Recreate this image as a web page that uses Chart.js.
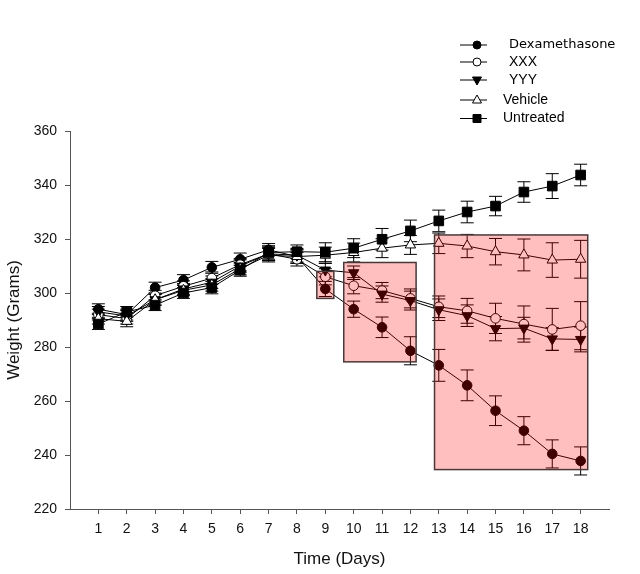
<!DOCTYPE html>
<html lang="en">
<head>
<meta charset="UTF-8">
<title>Weight over time</title>
<script src="https://cdn.jsdelivr.net/npm/chart.js"></script>
<style>
  html, body { margin: 0; padding: 0; background: #fff; }
  #wrap { position: relative; width: 640px; height: 574px; }
</style>
</head>
<body>
<div id="wrap"><canvas id="chart"></canvas></div>
<script>
// --- data ---
const days = [1, 2, 3, 4, 5, 6, 7, 8, 9, 10, 11, 12, 13, 14, 15, 16, 17, 18];
const xTicks = [1, 2, 3, 4, 5, 6, 7, 8, 9, 10, 11, 12, 13, 14, 15, 16, 17, 18];
const yTicks = [220, 240, 260, 280, 300, 320, 340, 360];
const seriesNames = ['Dexamethasone', 'XXX', 'YYY', 'Vehicle', 'Untreated'];

const dexamethasone    = [294, 292, 302, 304.8, 309.5, 312.5, 316, 313.5, 301.5, 294, 287.3, 278.6, 273.2, 265.8, 256.4, 249, 240.4, 237.8];
const dexamethasoneErr = [2, 2, 2, 2, 2.2, 2.3, 2.3, 2.5, 2.8, 3, 3.8, 5.2, 5.9, 5.7, 5.5, 5.2, 5.2, 5.2];
const xxx              = [292, 290.5, 299, 302.5, 305.5, 310.5, 314.5, 312.5, 306, 302.7, 300.9, 298, 294.9, 293.4, 290.6, 288.5, 286.5, 287.9];
const xxxErr           = [2, 2, 2, 2, 2.3, 2.3, 2.5, 2.5, 3, 3, 3, 3.5, 4, 4.6, 5.6, 6.7, 7.8, 8.9];
const yyy              = [293, 291.5, 297.5, 301.5, 304, 310, 314.5, 314, 308.5, 307.5, 299.6, 297.2, 293.8, 291.6, 286.8, 287, 283, 282.8];
const yyyErr           = [2, 2, 2, 2, 2.3, 2.3, 2.5, 2.5, 2.5, 2.5, 3, 3.5, 4, 4, 4.5, 4, 4.2, 4.6];
const vehicle          = [290.5, 289.5, 297.5, 301, 303, 309, 314, 313.5, 314, 315, 316.6, 317.8, 318.4, 317.4, 315.3, 314.1, 312.2, 312.5];
const vehicleErr       = [2, 2, 2, 2, 2.3, 2.3, 2.5, 2.5, 3, 3.5, 3.5, 3.5, 3.8, 4.3, 4.9, 5.9, 6.4, 7];
const untreated        = [288.5, 293, 295.5, 300, 302, 308.5, 315, 315.3, 315.1, 316.6, 319.9, 323, 326.7, 330, 332.2, 337.4, 339.6, 343.7];
const untreatedErr     = [2, 2, 2, 2, 2.3, 2.3, 2.5, 2.5, 3.5, 3.5, 4, 4, 4, 4, 3.6, 3.8, 4.6, 4];

// shaded regions, in data units: [dayFrom, dayTo], [weightFrom, weightTo]
const regionDays    = [[8.7, 9.3], [9.65, 12.2], [12.85, 18.25]];
const regionWeights = [[298, 308], [274.5, 311.3], [234.6, 321.5]];

const tickFont = { family: "'Liberation Sans', Arial, sans-serif", size: 14 };
const titleFont = { family: "'Liberation Sans', Arial, sans-serif", size: 17 };

// marker shapes for the legend
function drawMarker(ctx, style, x, y, r, fill) {
    ctx.beginPath();
    if (style === 'circle') {
        ctx.arc(x, y, r, 0, Math.PI * 2);
    } else if (style === 'rect') {
        ctx.rect(x - r, y - r, 2 * r, 2 * r);
    } else if (style === 'triUp') {
        ctx.moveTo(x, y - r);
        ctx.lineTo(x + r * 0.9, y + r * 0.6);
        ctx.lineTo(x - r * 0.9, y + r * 0.6);
        ctx.closePath();
    } else {
        ctx.moveTo(x, y + r);
        ctx.lineTo(x + r * 0.9, y - r * 0.6);
        ctx.lineTo(x - r * 0.9, y - r * 0.6);
        ctx.closePath();
    }
    ctx.fillStyle = fill;
    ctx.fill();
    ctx.lineWidth = 1;
    ctx.strokeStyle = '#000';
    ctx.stroke();
}

// error bars drawn under the markers
const errorBars = {
    id: 'errorBars',
    beforeDatasetsDraw(chart) {
        const ctx = chart.ctx;
        const xs = chart.scales.x, ys = chart.scales.y;
        ctx.save();
        ctx.strokeStyle = '#000';
        ctx.lineWidth = 1;
        chart.data.datasets.forEach(ds => {
            ds.data.forEach((pt, i) => {
                const e = ds.errors[i];
                const px = xs.getPixelForValue(pt.x);
                const top = ys.getPixelForValue(pt.y + e);
                const bot = ys.getPixelForValue(pt.y - e);
                ctx.beginPath();
                ctx.moveTo(px, top); ctx.lineTo(px, bot);
                ctx.moveTo(px - 6.5, top); ctx.lineTo(px + 6.5, top);
                ctx.moveTo(px - 6.5, bot); ctx.lineTo(px + 6.5, bot);
                ctx.stroke();
            });
        });
        ctx.restore();
    }
};

// translucent red boxes on top of the data
const shadedBoxes = {
    id: 'shadedBoxes',
    afterDatasetsDraw(chart) {
        const ctx = chart.ctx;
        const xs = chart.scales.x, ys = chart.scales.y;
        ctx.save();
        regionDays.forEach((d, i) => {
            const x0 = xs.getPixelForValue(d[0]);
            const x1 = xs.getPixelForValue(d[1]);
            const y0 = ys.getPixelForValue(regionWeights[i][1]);
            const y1 = ys.getPixelForValue(regionWeights[i][0]);
            ctx.fillStyle = 'rgba(255, 0, 0, 0.25)';
            ctx.fillRect(x0, y0, x1 - x0, y1 - y0);
            ctx.strokeStyle = '#4a3838';
            ctx.lineWidth = 1.5;
            ctx.strokeRect(x0, y0, x1 - x0, y1 - y0);
        });
        ctx.restore();
    }
};

// legend in the top right: line with marker, then name
const legendBox = {
    id: 'legendBox',
    afterDraw(chart) {
        const ctx = chart.ctx;
        const rows = [45, 62, 80, 100, 118.5];
        const textX = [509, 509, 509, 503, 503];
        const shapes = ['circle', 'circle', 'triDown', 'triUp', 'rect'];
        const fills = ['#000', '#fff', '#000', '#fff', '#000'];
        const sizes = [4, 4, 5, 5, 4];
        ctx.save();
        seriesNames.forEach((name, i) => {
            const y = rows[i];
            ctx.strokeStyle = '#000';
            ctx.lineWidth = 1;
            ctx.beginPath();
            ctx.moveTo(460, y); ctx.lineTo(487, y);
            ctx.stroke();
            drawMarker(ctx, shapes[i], 477, y, sizes[i], fills[i]);
            ctx.fillStyle = '#000';
            ctx.textBaseline = 'middle';
            ctx.font = i === 0 ? "13px 'DejaVu Sans', sans-serif" : "14px 'Liberation Sans', Arial, sans-serif";
            ctx.fillText(name, textX[i], y);
        });
        ctx.restore();
    }
};

function series(label, values, errs, style, fill, radius, rotation) {
    return {
        label: label,
        data: values.map((v, i) => ({ x: days[i], y: v })),
        errors: errs,
        borderColor: '#000',
        borderWidth: 1,
        pointStyle: style,
        pointRotation: rotation || 0,
        pointRadius: radius,
        pointBackgroundColor: fill,
        pointBorderColor: '#000',
        pointBorderWidth: 1,
        tension: 0,
        fill: false
    };
}

new Chart(document.getElementById('chart'), {
    type: 'line',
    data: {
        datasets: [
            series(seriesNames[4], untreated, untreatedErr, 'rect', '#000', 6.8),
            series(seriesNames[3], vehicle, vehicleErr, 'triangle', '#fff', 6),
            series(seriesNames[2], yyy, yyyErr, 'triangle', '#000', 6, 180),
            series(seriesNames[1], xxx, xxxErr, 'circle', '#fff', 4.8),
            series(seriesNames[0], dexamethasone, dexamethasoneErr, 'circle', '#000', 4.8)
        ]
    },
    options: {
        responsive: true,
        maintainAspectRatio: false,
        animation: false,
        layout: { padding: { top: 131, right: 31, bottom: 0, left: 0 } },
        plugins: {
            legend: { display: false },
            tooltip: { enabled: false }
        },
        scales: {
            x: {
                type: 'linear',
                min: 0,
                max: 19,
                afterBuildTicks: s => { s.ticks = xTicks.map(v => ({ value: v })); },
                afterFit: s => { s.height = 65; },
                grid: { drawOnChartArea: false, drawTicks: true, tickLength: 5, color: '#555' },
                border: { color: '#555', width: 1 },
                ticks: { font: tickFont, color: '#111', padding: 7, maxRotation: 0 },
                title: { display: true, text: 'Time (Days)', font: titleFont, color: '#111' }
            },
            y: {
                min: 220,
                max: 360,
                afterBuildTicks: s => { s.ticks = yTicks.map(v => ({ value: v })); },
                afterFit: s => { s.width = 70; },
                grid: { drawOnChartArea: false, drawTicks: true, tickLength: 5, color: '#555' },
                border: { color: '#555', width: 1 },
                ticks: { font: tickFont, color: '#111', padding: 8 },
                title: { display: true, text: 'Weight (Grams)', font: titleFont, color: '#111' }
            }
        }
    },
    plugins: [errorBars, shadedBoxes, legendBox]
});
</script>
</body>
</html>
